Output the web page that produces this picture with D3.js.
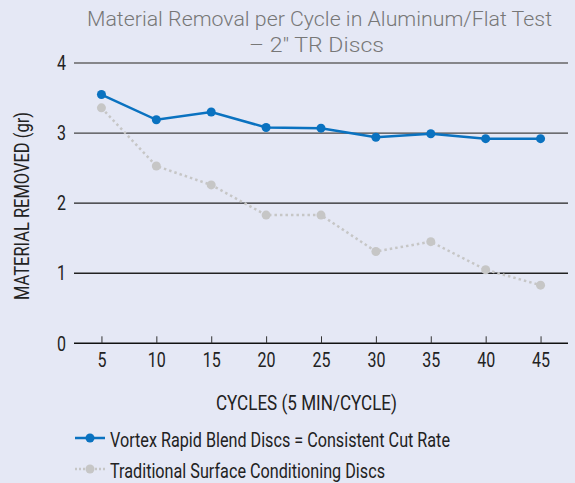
<!DOCTYPE html>
<html>
<head>
<meta charset="utf-8">
<script src="https://cdn.jsdelivr.net/npm/d3@7"></script>
<style>
  body { margin: 0; background: #e5e8f5; }
  svg { display: block; }
  text { font-family: "Roboto", "Liberation Sans", sans-serif; }
</style>
</head>
<body>
<div id="chart-area"></div>
<script>
// data
var cycles = [5, 10, 15, 20, 25, 30, 35, 40, 45];
var vortex = [3.55, 3.19, 3.30, 3.08, 3.07, 2.94, 2.99, 2.92, 2.92];
var traditional = [3.36, 2.53, 2.26, 1.83, 1.83, 1.31, 1.45, 1.05, 0.83];
var yTicks = [0, 1, 2, 3, 4];
var seriesNames = ["Vortex Rapid Blend Discs = Consistent Cut Rate", "Traditional Surface Conditioning Discs"];
var titleLines = ["Material Removal per Cycle in Aluminum/Flat Test", "\u2013 2\" TR Discs"];

var W = 575, H = 483;
var plotLeft = 74, plotRight = 568, plotTop = 63, plotBottom = 343.3;

// squeeze text to look condensed
function fit(sel, len) {
    sel.attr("textLength", len).attr("lengthAdjust", "spacingAndGlyphs");
}

var svg = d3.select("#chart-area")
    .append("svg")
    .attr("width", W)
    .attr("height", H);

svg.append("rect").attr("width", W).attr("height", H).attr("fill", "#e5e8f5");

var x = d3.scalePoint()
    .domain(cycles)
    .range([plotLeft, plotRight])
    .padding(0.5);

var y = d3.scaleLinear()
    .domain([0, 4])
    .range([plotBottom, plotTop]);

// title
var titleLens = [465, 135];
svg.selectAll("text.title").data(titleLines).enter()
    .append("text")
    .attr("class", "title")
    .attr("x", (d, i) => i == 0 ? 319.5 : 316.5)
    .attr("y", (d, i) => 26 + i * 26)
    .attr("text-anchor", "middle")
    .attr("font-size", 20)
    .attr("font-weight", 300)
    .attr("fill", "#777")
    .text((d) => d)
    .each(function(d, i) { fit(d3.select(this), titleLens[i]); });

// gridlines
svg.selectAll("line.grid").data(yTicks.filter((d) => d > 0)).enter()
    .append("line")
    .attr("class", "grid")
    .attr("x1", plotLeft).attr("x2", plotRight)
    .attr("y1", (d) => y(d)).attr("y2", (d) => y(d))
    .attr("stroke", (d) => d == 4 ? "#666" : (d == 3 ? "#444" : "#222"))
    .attr("stroke-width", 1.3);

// y tick labels
svg.selectAll("text.ytick").data(yTicks).enter()
    .append("text")
    .attr("class", "ytick")
    .attr("x", 66)
    .attr("y", (d) => y(d))
    .attr("dy", "0.36em")
    .attr("text-anchor", "end")
    .attr("font-size", 20)
    .attr("fill", "#222")
    .text((d) => d)
    .attr("textLength", 9)
    .attr("lengthAdjust", "spacingAndGlyphs");

// x axis
var xAxis = svg.append("g")
    .attr("transform", "translate(0," + plotBottom + ")")
    .call(d3.axisBottom(x).tickSizeInner(-7).tickSizeOuter(0).tickPadding(10));
xAxis.select(".domain").attr("stroke", "#111").attr("stroke-width", 1.6)
    .attr("d", "M" + plotLeft + ",0H" + plotRight);
xAxis.selectAll(".tick line").attr("stroke", "#333").attr("stroke-width", 1);
xAxis.selectAll(".tick text")
    .attr("font-size", 20)
    .attr("font-family", "Roboto, sans-serif")
    .attr("fill", "#222")
    .attr("y", 17)
    .attr("dy", "0.36em")
    .attr("textLength", (d) => String(d).length * 9)
    .attr("lengthAdjust", "spacingAndGlyphs");

// axis titles
svg.append("text")
    .attr("x", 306.5)
    .attr("y", 410)
    .attr("text-anchor", "middle")
    .attr("font-size", 20)
    .attr("fill", "#222")
    .text("CYCLES (5 MIN/CYCLE)")
    .call(fit, 181);

svg.append("text")
    .attr("transform", "translate(29,206) rotate(-90)")
    .attr("text-anchor", "middle")
    .attr("font-size", 20)
    .attr("fill", "#222")
    .text("MATERIAL REMOVED (gr)")
    .call(fit, 188);

var line = d3.line()
    .x((d, i) => x(cycles[i]))
    .y((d) => y(d));

var styles = [
    { color: "#0a72c0", dash: null },
    { color: "#c6c6c6", dash: "2.5,3" }
];
var allSeries = [traditional, vortex];
var allStyles = [styles[1], styles[0]];

allSeries.forEach((s, k) => {
    svg.append("path")
        .datum(s)
        .attr("d", line)
        .attr("fill", "none")
        .attr("stroke", allStyles[k].color)
        .attr("stroke-width", 2.5)
        .attr("stroke-dasharray", allStyles[k].dash);
    svg.selectAll(null).data(s).enter()
        .append("circle")
        .attr("cx", (d, i) => x(cycles[i]))
        .attr("cy", (d) => y(d))
        .attr("r", 4.5)
        .attr("fill", allStyles[k].color);
});

// legend
var legendLens = [340, 275];
var legend = svg.selectAll("g.legend").data(seriesNames).enter()
    .append("g")
    .attr("class", "legend")
    .attr("transform", (d, i) => "translate(75," + (438 + i * 31) + ")");
legend.append("line")
    .attr("x1", 0).attr("x2", 30)
    .attr("stroke", (d, i) => styles[i].color)
    .attr("stroke-width", 2.5)
    .attr("stroke-dasharray", (d, i) => i == 1 ? "2,2" : null);
legend.append("circle")
    .attr("cx", 15)
    .attr("r", 4.5)
    .attr("fill", (d, i) => styles[i].color);
legend.append("text")
    .attr("x", 35)
    .attr("y", 9)
    .attr("font-size", 20.5)
    .attr("fill", "#222")
    .text((d) => d)
    .each(function(d, i) { fit(d3.select(this), legendLens[i]); });
</script>
</body>
</html>
